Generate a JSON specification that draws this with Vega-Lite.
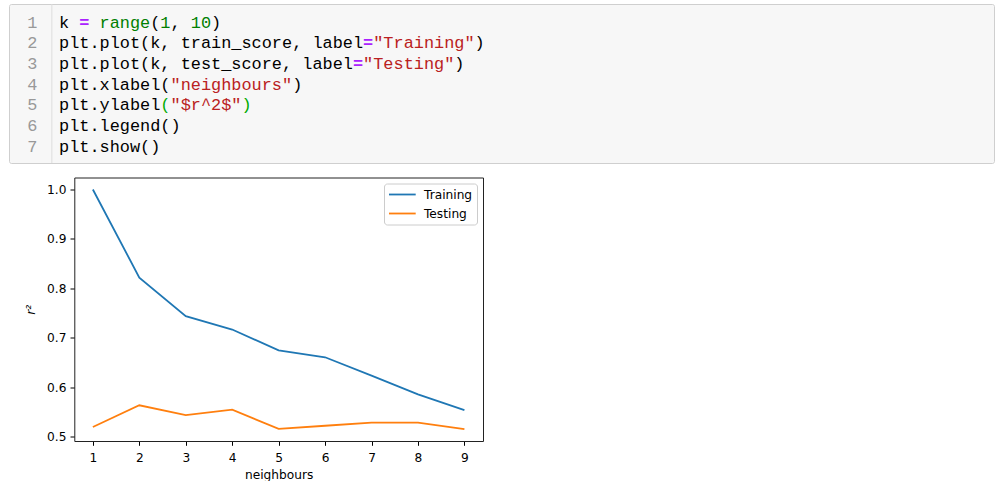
{
  "$schema": "https://vega.github.io/schema/vega-lite/v6.json",
  "background": "white",
  "padding": {"left": 8, "top": 3, "right": 0, "bottom": 0},
  "spacing": 13.5,
  "resolve": {"scale": {"color": "independent"}, "legend": {"color": "independent"}},
  "config": {"font": "DejaVu Sans"},
  "datasets": {
    "code": [
      {"line": 1, "tok": "default", "text": "k\u00a0\u00a0\u00a0\u00a0\u00a0\u00a0\u00a0\u00a0(\u00a0,\u00a0\u00a0\u00a0)"},
      {"line": 1, "tok": "operator", "text": "\u200b\u00a0\u00a0="},
      {"line": 1, "tok": "green", "text": "\u200b\u00a0\u00a0\u00a0\u00a0range\u00a01\u00a0\u00a010"},
      {"line": 2, "tok": "default", "text": "plt.plot(k, train_score, label\u00a0\u00a0\u00a0\u00a0\u00a0\u00a0\u00a0\u00a0\u00a0\u00a0\u00a0)"},
      {"line": 2, "tok": "operator", "text": "\u200b\u00a0\u00a0\u00a0\u00a0\u00a0\u00a0\u00a0\u00a0\u00a0\u00a0\u00a0\u00a0\u00a0\u00a0\u00a0\u00a0\u00a0\u00a0\u00a0\u00a0\u00a0\u00a0\u00a0\u00a0\u00a0\u00a0\u00a0\u00a0\u00a0\u00a0="},
      {"line": 2, "tok": "string", "text": "\u200b\u00a0\u00a0\u00a0\u00a0\u00a0\u00a0\u00a0\u00a0\u00a0\u00a0\u00a0\u00a0\u00a0\u00a0\u00a0\u00a0\u00a0\u00a0\u00a0\u00a0\u00a0\u00a0\u00a0\u00a0\u00a0\u00a0\u00a0\u00a0\u00a0\u00a0\u00a0\"Training\""},
      {"line": 3, "tok": "default", "text": "plt.plot(k, test_score, label\u00a0\u00a0\u00a0\u00a0\u00a0\u00a0\u00a0\u00a0\u00a0\u00a0)"},
      {"line": 3, "tok": "operator", "text": "\u200b\u00a0\u00a0\u00a0\u00a0\u00a0\u00a0\u00a0\u00a0\u00a0\u00a0\u00a0\u00a0\u00a0\u00a0\u00a0\u00a0\u00a0\u00a0\u00a0\u00a0\u00a0\u00a0\u00a0\u00a0\u00a0\u00a0\u00a0\u00a0\u00a0="},
      {"line": 3, "tok": "string", "text": "\u200b\u00a0\u00a0\u00a0\u00a0\u00a0\u00a0\u00a0\u00a0\u00a0\u00a0\u00a0\u00a0\u00a0\u00a0\u00a0\u00a0\u00a0\u00a0\u00a0\u00a0\u00a0\u00a0\u00a0\u00a0\u00a0\u00a0\u00a0\u00a0\u00a0\u00a0\"Testing\""},
      {"line": 4, "tok": "default", "text": "plt.xlabel(\u00a0\u00a0\u00a0\u00a0\u00a0\u00a0\u00a0\u00a0\u00a0\u00a0\u00a0\u00a0)"},
      {"line": 4, "tok": "string", "text": "\u200b\u00a0\u00a0\u00a0\u00a0\u00a0\u00a0\u00a0\u00a0\u00a0\u00a0\u00a0\"neighbours\""},
      {"line": 5, "tok": "default", "text": "plt.ylabel"},
      {"line": 5, "tok": "bracket", "text": "\u200b\u00a0\u00a0\u00a0\u00a0\u00a0\u00a0\u00a0\u00a0\u00a0\u00a0(\u00a0\u00a0\u00a0\u00a0\u00a0\u00a0\u00a0)"},
      {"line": 5, "tok": "string", "text": "\u200b\u00a0\u00a0\u00a0\u00a0\u00a0\u00a0\u00a0\u00a0\u00a0\u00a0\u00a0\"$r^2$\""},
      {"line": 6, "tok": "default", "text": "plt.legend()"},
      {"line": 7, "tok": "default", "text": "plt.show()"}
    ],
    "gutter": [
      {"line": 1}, {"line": 2}, {"line": 3}, {"line": 4}, {"line": 5}, {"line": 6}, {"line": 7}
    ],
    "scores": [
      {"k": 1, "series": "Training", "score": 1.0},
      {"k": 2, "series": "Training", "score": 0.822},
      {"k": 3, "series": "Training", "score": 0.744},
      {"k": 4, "series": "Training", "score": 0.717},
      {"k": 5, "series": "Training", "score": 0.675},
      {"k": 6, "series": "Training", "score": 0.661},
      {"k": 7, "series": "Training", "score": 0.624},
      {"k": 8, "series": "Training", "score": 0.586},
      {"k": 9, "series": "Training", "score": 0.554},
      {"k": 1, "series": "Testing", "score": 0.520},
      {"k": 2, "series": "Testing", "score": 0.564},
      {"k": 3, "series": "Testing", "score": 0.544},
      {"k": 4, "series": "Testing", "score": 0.555},
      {"k": 5, "series": "Testing", "score": 0.5165},
      {"k": 6, "series": "Testing", "score": 0.5226},
      {"k": 7, "series": "Testing", "score": 0.529},
      {"k": 8, "series": "Testing", "score": 0.529},
      {"k": 9, "series": "Testing", "score": 0.516}
    ]
  },
  "vconcat": [
    {
      "width": 985,
      "height": 159,
      "view": {"fill": "#f7f7f7", "stroke": "#cfcfcf", "strokeWidth": 1, "cornerRadius": 2},
      "data": {"name": "code"},
      "encoding": {
        "y": {"field": "line", "type": "quantitative", "scale": {"domain": [0.095, 7.788], "reverse": true, "nice": false, "zero": false}, "axis": null},
        "x": {"datum": "code", "type": "nominal", "scale": {"type": "point", "domain": ["gutter", "pad", "sep", "code"], "range": [28.5, 50], "padding": 0}, "axis": null}
      },
      "layer": [
        {
          "data": {"values": [{"s": 1}]},
          "mark": {"type": "rule", "color": "#dddddd", "strokeWidth": 1},
          "encoding": {
            "x": {"datum": "sep", "type": "nominal"},
            "y": null
          }
        },
        {
          "data": {"name": "gutter"},
          "mark": {"type": "text", "align": "right", "baseline": "middle", "font": "Liberation Mono", "fontSize": 16.9, "color": "#999999"},
          "encoding": {
            "x": {"datum": "gutter", "type": "nominal"},
            "text": {"field": "line", "type": "nominal"}
          }
        },
        {
          "transform": [{"filter": "datum.tok == 'default'"}],
          "mark": {"type": "text", "align": "left", "baseline": "middle", "font": "Liberation Mono", "fontSize": 16.9, "color": "#000000"},
          "encoding": {"text": {"field": "text", "type": "nominal"}}
        },
        {
          "transform": [{"filter": "datum.tok == 'green'"}],
          "mark": {"type": "text", "align": "left", "baseline": "middle", "font": "Liberation Mono", "fontSize": 16.9, "color": "#008000"},
          "encoding": {"text": {"field": "text", "type": "nominal"}}
        },
        {
          "transform": [{"filter": "datum.tok == 'string'"}],
          "mark": {"type": "text", "align": "left", "baseline": "middle", "font": "Liberation Mono", "fontSize": 16.9, "color": "#ba2121"},
          "encoding": {"text": {"field": "text", "type": "nominal"}}
        },
        {
          "transform": [{"filter": "datum.tok == 'bracket'"}],
          "mark": {"type": "text", "align": "left", "baseline": "middle", "font": "Liberation Mono", "fontSize": 16.9, "color": "#00aa00"},
          "encoding": {"text": {"field": "text", "type": "nominal"}}
        },
        {
          "transform": [{"filter": "datum.tok == 'operator'"}],
          "mark": {"type": "text", "align": "left", "baseline": "middle", "font": "Liberation Mono", "fontSize": 16.9, "fontWeight": "bold", "color": "#aa22ff"},
          "encoding": {"text": {"field": "text", "type": "nominal"}}
        }
      ]
    },
    {
      "width": 474,
      "height": 263.5,
      "view": {"stroke": null},
      "data": {"name": "scores"},
      "resolve": {"axis": {"x": "independent", "y": "independent"}},
      "layer": [
        {
          "mark": {"type": "line", "strokeWidth": 1.8},
          "encoding": {
            "x": {
              "field": "k", "type": "quantitative",
              "scale": {"domain": [0.6, 9.4], "range": [65.3, 474], "nice": false, "zero": false},
              "axis": {
                "values": [1, 2, 3, 4, 5, 6, 7, 8, 9], "format": "d", "title": "neighbours",
                "grid": false, "domain": true, "domainColor": "#222222", "domainWidth": 1,
                "tickSize": 4.3, "tickColor": "#000000", "tickWidth": 1,
                "labelFont": "DejaVu Sans", "labelFontSize": 12.2, "labelColor": "#000000", "labelPadding": 6, "labelFlush": false,
                "titleFont": "DejaVu Sans", "titleFontSize": 12.2, "titleFontWeight": "normal", "titleColor": "#000000", "titlePadding": 5
              }
            },
            "y": {
              "field": "score", "type": "quantitative",
              "scale": {"domain": [0.4918, 1.0242], "nice": false, "zero": false},
              "axis": {
                "offset": -65.3,
                "values": [0.5, 0.6, 0.7, 0.8, 0.9, 1.0], "format": ".1f", "title": "r²",
                "grid": false, "domain": true, "domainColor": "#222222", "domainWidth": 1,
                "tickSize": 4.3, "tickColor": "#000000", "tickWidth": 1,
                "labelFont": "DejaVu Sans", "labelFontSize": 12.2, "labelColor": "#000000", "labelPadding": 4, "labelFlush": false,
                "titleFont": "DejaVu Sans", "titleFontSize": 12.2, "titleFontWeight": "normal", "titleFontStyle": "italic", "titleColor": "#000000", "titlePadding": 9
              }
            },
            "color": {
              "field": "series", "type": "nominal",
              "scale": {"domain": ["Training", "Testing"], "range": ["#1f77b4", "#ff7f0e"]},
              "sort": ["Training", "Testing"],
              "legend": {
                "title": null, "orient": "top-right", "offset": 6, "padding": 4,
                "strokeColor": "#cccccc", "fillColor": "rgba(255,255,255,0.8)", "cornerRadius": 3,
                "symbolType": "M-1,0H3.45", "symbolSize": 144, "symbolStrokeWidth": 1.8,
                "labelFont": "DejaVu Sans", "labelFontSize": 12.2, "labelColor": "#000000", "labelOffset": 22, "rowPadding": 5
              }
            }
          }
        },
        {
          "mark": {"type": "line", "opacity": 0},
          "encoding": {
            "x": {
              "field": "k", "type": "quantitative",
              "axis": {"orient": "top", "title": null, "labels": false, "ticks": false, "grid": false, "domain": true, "domainColor": "#222222", "domainWidth": 1}
            },
            "y": {
              "field": "score", "type": "quantitative",
              "axis": {"orient": "right", "title": null, "labels": false, "ticks": false, "grid": false, "domain": true, "domainColor": "#222222", "domainWidth": 1}
            },
            "detail": {"field": "series"}
          }
        }
      ]
    }
  ]
}
